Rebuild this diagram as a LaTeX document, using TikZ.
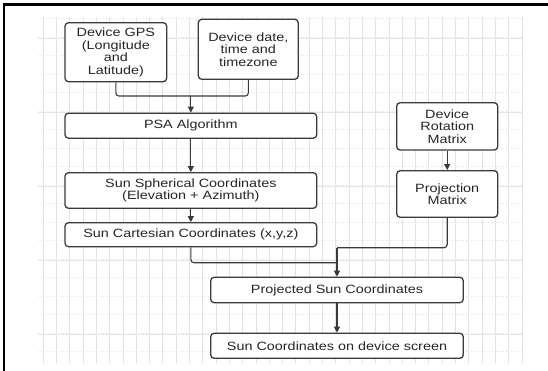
\documentclass[tikz,border=0pt]{standalone}
\usepackage{fontspec}
\setmainfont[FakeStretch=1.2]{Liberation Sans}
\usetikzlibrary{arrows.meta}
\definecolor{edge}{HTML}{3A3A3A}
\begin{document}
\begin{tikzpicture}[x=1pt,y=-1pt,
  box/.style={draw=edge, line width=1.3pt, rounded corners=3.5pt, fill=white,
    align=center, inner sep=0pt, font=\fontsize{12}{12.5}\selectfont, text=black!85},
  link/.style={draw=edge, line width=1.1pt, rounded corners=3pt},
  arr/.style={link, -{Triangle[length=6pt,width=6pt]}},
  gridv/.style={draw=black!11, line width=0.5pt},
  gridh/.style={draw=black!10, line width=0.5pt, dotted}]
\useasboundingbox (0,0) rectangle (548,371);
% faint grid
\foreach \i in {0,...,36} {\draw[gridv] (43+13.3*\i,17) -- (43+13.3*\i,363);}
\foreach \j in {0,...,18} {\draw[gridh] (38,18.5+18.5*\j) -- (522,18.5+18.5*\j);}
\foreach \j in {0,...,4} {\draw[draw=black!10, line width=0.5pt] (38,38+74*\j) -- (522,38+74*\j);}
% frame (top and left)
\draw[line width=2.2pt] (4,371) -- (4,4.5) -- (548,4.5);
% nodes
\node[box, minimum width=101.7pt, minimum height=59pt] (gps) at (115.85,52.2)
  {Device GPS\\(Longitude\\and\\Latitude)};
\node[box, minimum width=100pt, minimum height=60pt] (date) at (248.3,49.3)
  {Device date,\\time and\\timezone};
\node[box, minimum width=251.7pt, minimum height=25pt] (psa) at (190.85,125.7)
  {PSA Algorithm};
\node[box, minimum width=251.7pt, minimum height=35.6pt] (sph) at (190.85,190.5)
  {Sun Spherical Coordinates\\(Elevation + Azimuth)};
\node[box, minimum width=251.7pt, minimum height=24pt] (cart) at (190.85,234.7)
  {Sun Cartesian Coordinates (x,y,z)};
\node[box, minimum width=101pt, minimum height=47.3pt] (rot) at (447.2,126.35)
  {Device\\Rotation\\Matrix};
\node[box, minimum width=101pt, minimum height=46.6pt] (proj) at (447.2,194)
  {Projection\\Matrix};
\node[box, minimum width=252.6pt, minimum height=25.4pt] (psun) at (337,290)
  {Projected Sun Coordinates};
\node[box, minimum width=252.6pt, minimum height=25pt] (screen) at (337,345.8)
  {Sun Coordinates on device screen};
% junctions
\coordinate (j1) at (190.85,96);
\coordinate (j2) at (337,262.7);
\coordinate (j3) at (337,247.7);
% connectors
\draw[link] (gps.south) |- (j1);
\draw[link] (date.south) |- (j1);
\draw[arr] (j1) -- (psa.north);
\draw[arr] (psa.south) -- (sph.north);
\draw[arr] (sph.south) -- (cart.north);
\draw[arr] (rot.south) -- (proj.north);
\draw[link] (cart.south) |- (j2);
\draw[link] (proj.south) |- (j3);
\draw[arr] (j3) -- (psun.north);
\draw[arr] (psun.south) -- (screen.north);
\end{tikzpicture}
\end{document}
